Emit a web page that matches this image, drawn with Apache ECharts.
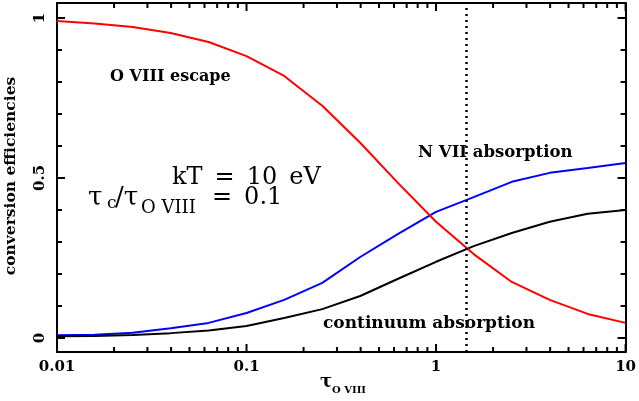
<!DOCTYPE html>
<html>
<head>
<meta charset="utf-8">
<script src="https://cdn.jsdelivr.net/npm/echarts@6/dist/echarts.min.js"></script>
<style>
  html, body { margin: 0; padding: 0; background: #fff; }
  #chart { width: 639px; height: 401px; }
</style>
</head>
<body>
<div id="chart"></div>
<script>
// tau_O VIII, sampled every 0.2 dex
var tau = [0.01, 0.0158, 0.0251, 0.0398, 0.0631, 0.1, 0.158, 0.251, 0.398, 0.631, 1, 1.58, 2.51, 3.98, 6.31, 10]
var escapeO8 = [0.991, 0.983, 0.972, 0.953, 0.925, 0.881, 0.819, 0.726, 0.61, 0.484, 0.363, 0.262, 0.175, 0.119, 0.075, 0.047]
var absorbN7 = [0.008, 0.010, 0.016, 0.030, 0.047, 0.078, 0.119, 0.172, 0.253, 0.325, 0.394, 0.44, 0.488, 0.516, 0.531, 0.547]
var absorbCont = [0.005, 0.006, 0.009, 0.015, 0.023, 0.037, 0.062, 0.09, 0.131, 0.185, 0.238, 0.287, 0.328, 0.363, 0.388, 0.40]
var tauMark = 1.44

var xMajor = [0.01, 0.1, 1, 10]
var xMinor = [0.02, 0.03, 0.04, 0.05, 0.06, 0.07, 0.08, 0.09, 0.2, 0.3, 0.4, 0.5, 0.6, 0.7, 0.8, 0.9, 2, 3, 4, 5, 6, 7, 8, 9]
var yMajor = [0, 0.5, 1]
var yMinor = [0.1, 0.2, 0.3, 0.4, 0.6, 0.7, 0.8, 0.9]
var yMin = -0.044, yMax = 1.047

var serif = '"DejaVu Serif", serif'

function pairs(ys){
  return tau.map(function(t, i){ return [t, ys[i]] })
}

var tickStyle = { color: '#000', width: 2 }

function xAxisOf(pos, showLabel){
  return {
    type: 'log', logBase: 10, min: 0.01, max: 10, position: pos,
    axisLine: { show: true, onZero: false, lineStyle: tickStyle },
    axisTick: { show: false },
    axisLabel: { show: showLabel, color: '#000', fontFamily: serif, fontWeight: 'bold', fontSize: 15, margin: 8 },
    splitLine: { show: false }
  }
}
function yAxisOf(pos, ticks, len, showLine, showLabel){
  return {
    type: 'value', min: yMin, max: yMax, position: pos,
    axisLine: { show: showLine, onZero: false, lineStyle: tickStyle },
    axisTick: { show: true, inside: true, length: len, customValues: ticks, lineStyle: tickStyle },
    axisLabel: { show: showLabel, customValues: ticks, rotate: 90, color: '#000', fontFamily: serif, fontWeight: 'bold', fontSize: 15, margin: 9 },
    splitLine: { show: false }
  }
}

var chart = echarts.init(document.getElementById('chart'), null, { renderer: 'canvas' })

var option = {
  animation: false,
  backgroundColor: '#fff',
  grid: { left: 57, right: 11, top: 3, bottom: 49 },
  xAxis: [
    xAxisOf('bottom', true),
    xAxisOf('top', false)
  ],
  yAxis: [
    yAxisOf('left', yMajor, 8, true, true),
    yAxisOf('left', yMinor, 5, false, false),
    yAxisOf('right', yMajor, 8, true, false),
    yAxisOf('right', yMinor, 5, false, false)
  ],
  series: [
    {
      type: 'line', data: pairs(escapeO8), showSymbol: false, symbol: 'none',
      lineStyle: { color: '#ff0000', width: 2 },
      markLine: {
        silent: true, symbol: 'none', label: { show: false },
        lineStyle: { color: '#000', type: [2, 4], width: 2.5 },
        data: [{ xAxis: tauMark }]
      },
      z: 3
    },
    { type: 'line', data: pairs(absorbN7), showSymbol: false, symbol: 'none', lineStyle: { color: '#0000ff', width: 2 }, z: 2 },
    { type: 'line', data: pairs(absorbCont), showSymbol: false, symbol: 'none', lineStyle: { color: '#000', width: 2 }, z: 2 }
  ]
}

chart.setOption(option)

var texts = [
  { type: 'text', x: 11, y: 176, rotation: Math.PI / 2,
    style: { text: 'conversion efficiencies', fill: '#000', font: 'bold 15.5px ' + serif, align: 'center', verticalAlign: 'middle' } },
  { type: 'text', x: 110, y: 77,
    style: { text: 'O VIII escape', fill: '#000', font: 'bold 16px ' + serif, verticalAlign: 'middle' } },
  { type: 'text', x: 418, y: 153,
    style: { text: 'N VII absorption', fill: '#000', font: 'bold 16.5px ' + serif, verticalAlign: 'middle' } },
  { type: 'text', x: 323, y: 324,
    style: { text: 'continuum absorption', fill: '#000', font: 'bold 17px ' + serif, verticalAlign: 'middle' } },
  { type: 'text', x: 172, y: 178,
    style: { text: 'kT\u2002=\u200210\u2002eV', fill: '#000', font: '24px ' + serif, verticalAlign: 'middle' } },
  { type: 'text', x: 88, y: 198,
    style: { text: '\u03c4', fill: '#000', font: '26px ' + serif, verticalAlign: 'middle' } },
  { type: 'text', x: 107, y: 204,
    style: { text: 'c', fill: '#000', font: '17px ' + serif, verticalAlign: 'middle' } },
  { type: 'text', x: 115, y: 198,
    style: { text: '/\u03c4', fill: '#000', font: '26px ' + serif, verticalAlign: 'middle' } },
  { type: 'text', x: 141, y: 208,
    style: { text: 'O VIII', fill: '#000', font: '18px ' + serif, verticalAlign: 'middle' } },
  { type: 'text', x: 212, y: 198,
    style: { text: '=\u20020.1', fill: '#000', font: '24px ' + serif, verticalAlign: 'middle' } },
  { type: 'text', x: 320, y: 382,
    style: { text: '\u03c4', fill: '#000', font: 'bold 18px ' + serif, verticalAlign: 'middle' } },
  { type: 'text', x: 332, y: 390,
    style: { text: 'O VIII', fill: '#000', font: 'bold 10px ' + serif, verticalAlign: 'middle' } }
]

// x ticks, placed through the log axis, pointing inward at bottom and top
var yBot = chart.convertToPixel({ yAxisIndex: 0 }, yMin)
var yTop = chart.convertToPixel({ yAxisIndex: 0 }, yMax)
var ticks = []
function addTicks(vals, len){
  vals.forEach(function(v){
    var px = chart.convertToPixel({ xAxisIndex: 0 }, v)
    ticks.push({ type: 'rect', z: 100, silent: true, shape: { x: px - 1, y: yBot - len, width: 2, height: len }, style: { fill: '#000' } })
    ticks.push({ type: 'rect', z: 100, silent: true, shape: { x: px - 1, y: yTop, width: 2, height: len }, style: { fill: '#000' } })
  })
}
addTicks(xMajor, 8)
addTicks(xMinor, 5)

chart.setOption({ graphic: texts.concat(ticks) })
</script>
</body>
</html>
